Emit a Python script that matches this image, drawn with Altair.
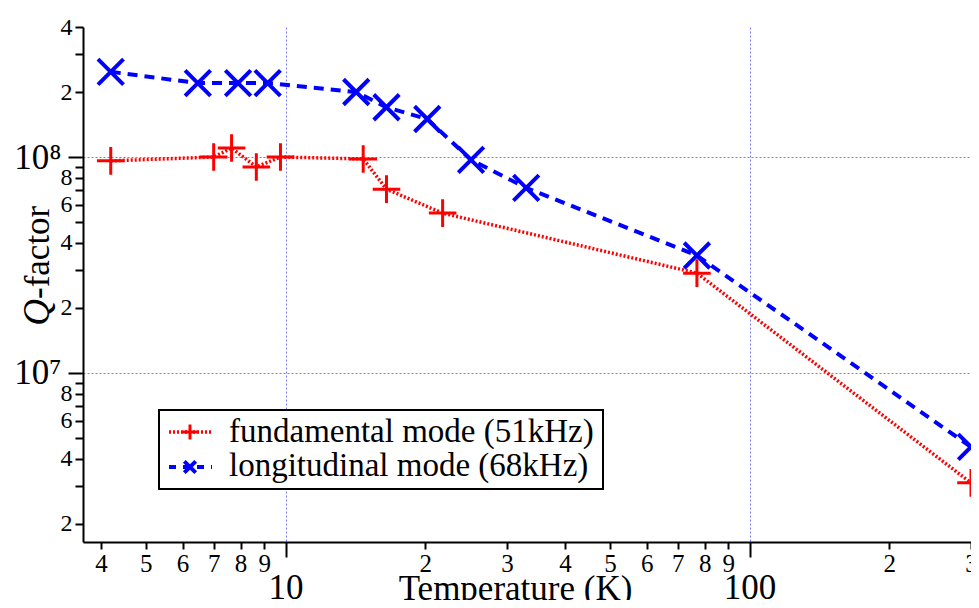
import altair as alt
import pandas as pd

# ---- data ----
temp_fund = [4.2, 7.0, 7.65, 8.65, 9.75, 14.7, 16.5, 21.8, 77.0, 300.0]
q_fund = [0.96e8, 1.0e8, 1.10e8, 0.90e8, 1.0e8, 0.98e8, 0.71e8, 0.55e8, 0.29e8, 3.1e6]
temp_long = [4.2, 6.47, 7.9, 9.15, 14.2, 16.5, 20.2, 25.1, 33.0, 77.0, 300.0]
q_long = [2.48e8, 2.2e8, 2.2e8, 2.2e8, 2.0e8, 1.7e8, 1.5e8, 0.97e8, 0.72e8, 0.35e8, 4.55e6]

label_fund = "fundamental mode (51kHz)"
label_long = "longitudinal mode (68kHz)"

x_ticks = [4, 5, 6, 7, 8, 9, 10, 20, 30, 40, 50, 60, 70, 80, 90, 100, 200, 300]
y_ticks = [2e6, 3e6, 4e6, 5e6, 6e6, 7e6, 8e6, 9e6, 1e7,
           2e7, 3e7, 4e7, 5e7, 6e7, 7e7, 8e7, 9e7, 1e8, 2e8, 3e8, 4e8]

x_domain = [3.66, 300]
y_domain = [1.65e6, 4e8]

df_f = pd.DataFrame({"T": temp_fund, "Q": q_fund})
df_l = pd.DataFrame({"T": temp_long, "Q": q_long})

FONT = "Liberation Serif"
RED = "#ff0000"
BLUE = "#0000ff"
GRID = "#7878ff"

PLUS = "M-1,0H1M0,-1V1"
CROSS = "M-1,-1L1,1M-1,1L1,-1"

x_major = "datum.value == 10 || datum.value == 100"
y_major = "datum.value == 10000000 || datum.value == 100000000"
mant = "round(datum.value / pow(10, floor(log(datum.value)/LN10 + 1e-9)))"

x_axis = alt.Axis(
    values=x_ticks,
    labelExpr=f"({x_major}) ? '' + datum.value : '' + {mant}",
    tickSize={"condition": {"test": x_major, "value": 15}, "value": 7},
    labelFontSize={"condition": {"test": x_major, "value": 35}, "value": 25},
    labelPadding={"condition": {"test": x_major, "value": 13}, "value": 2},
    gridOpacity={"condition": {"test": x_major, "value": 1}, "value": 0},
    grid=True, gridColor=GRID, gridDash=[2, 2], gridWidth=1,
    domainColor="black", domainWidth=2, tickColor="black", tickWidth=2,
    labelFont=FONT, labelColor="black", labelOverlap=False, labelFlush=False,
    labelBaseline="top",
    title="Temperature (K)", titleFont=FONT, titleFontSize=35, titleFontWeight="normal",
    titleColor="black", titleX=432, titleY=57, titleBaseline="alphabetic", titleAlign="center",
    titleAnchor="start",
)

y_axis = alt.Axis(
    values=y_ticks,
    labelExpr=(f"datum.value == 10000000 ? '10\u2077' : datum.value == 100000000 ? '10\u2078' : "
               f"({mant} % 2 == 0 ? '' + {mant} : '')"),
    tickSize={"condition": {"test": y_major, "value": 15}, "value": 8},
    labelFontSize={"condition": {"test": y_major, "value": 35}, "value": 24},
    labelPadding={"condition": {"test": y_major, "value": 7}, "value": 3},
    gridOpacity={"condition": {"test": y_major, "value": 1}, "value": 0},
    grid=True, gridColor=GRID, gridDash=[2, 2], gridWidth=1,
    domainColor="black", domainWidth=2, tickColor="black", tickWidth=2,
    labelFont=FONT, labelColor="black", labelOverlap=False, labelFlush=False,
    title="",
)

X = alt.X("T:Q", scale=alt.Scale(type="log", domain=x_domain, nice=False), axis=x_axis)
Y = alt.Y("Q:Q", scale=alt.Scale(type="log", domain=y_domain, nice=False), axis=y_axis)

long_line = alt.Chart(df_l).mark_line(color=BLUE, strokeWidth=4, strokeDash=[10, 7]).encode(x=X, y=Y)
long_pts = alt.Chart(df_l).mark_point(shape=CROSS, size=650, color=BLUE, strokeWidth=4,
                                      filled=False, opacity=1).encode(x=X, y=Y)
fund_line = alt.Chart(df_f).mark_line(color=RED, strokeWidth=3.5, strokeDash=[2, 2]).encode(x=X, y=Y)
fund_pts = alt.Chart(df_f).mark_point(shape=PLUS, size=760, color=RED, strokeWidth=3,
                                      filled=False, opacity=1).encode(x=X, y=Y)

one = pd.DataFrame({"k": [0]})

# y title: italic Q + "-factor"
q_txt = alt.Chart(one).mark_text(font=FONT, fontStyle="italic", fontSize=37, angle=270,
                                 align="right", baseline="alphabetic", color="black").encode(
    x=alt.value(-34), y=alt.value(272), text=alt.value("Q"))
f_txt = alt.Chart(one).mark_text(font=FONT, fontSize=35, angle=270,
                                 align="left", baseline="alphabetic", color="black").encode(
    x=alt.value(-34), y=alt.value(272), text=alt.value("-factor"))

# legend
box = alt.Chart(one).mark_rect(fill="white", stroke="black", strokeWidth=2).encode(
    x=alt.value(76), x2=alt.value(520), y=alt.value(383), y2=alt.value(462))
leg_l1 = alt.Chart(one).mark_rule(color=RED, strokeWidth=3.5, strokeDash=[2, 2]).encode(
    x=alt.value(86), x2=alt.value(129), y=alt.value(405))
leg_p1 = alt.Chart(one).mark_point(shape=PLUS, size=220, color=RED, strokeWidth=3,
                                   filled=False, opacity=1).encode(x=alt.value(107), y=alt.value(405))
leg_t1 = alt.Chart(one).mark_text(font=FONT, fontSize=33, align="left", baseline="alphabetic",
                                  color="black").encode(x=alt.value(146), y=alt.value(415),
                                                        text=alt.value(label_fund))
leg_l2 = alt.Chart(one).mark_rule(color=BLUE, strokeWidth=4, strokeDash=[7, 7]).encode(
    x=alt.value(86), x2=alt.value(129), y=alt.value(440))
leg_p2 = alt.Chart(one).mark_point(shape=CROSS, size=130, color=BLUE, strokeWidth=4,
                                   filled=False, opacity=1).encode(x=alt.value(107), y=alt.value(440))
leg_t2 = alt.Chart(one).mark_text(font=FONT, fontSize=33, align="left", baseline="alphabetic",
                                  color="black").encode(x=alt.value(146), y=alt.value(449),
                                                        text=alt.value(label_long))

chart = alt.layer(
    long_line, long_pts, fund_line, fund_pts,
    q_txt, f_txt,
    box, leg_l1, leg_p1, leg_t1, leg_l2, leg_p2, leg_t2,
).properties(
    width=888, height=515,
    autosize=alt.AutoSizeParams(type="none"),
    padding={"left": 75, "top": 19, "right": 0, "bottom": 58},
    background="white",
).configure_view(strokeWidth=0)

chart.save("out.html", embed_options={"renderer": "svg", "actions": False})
